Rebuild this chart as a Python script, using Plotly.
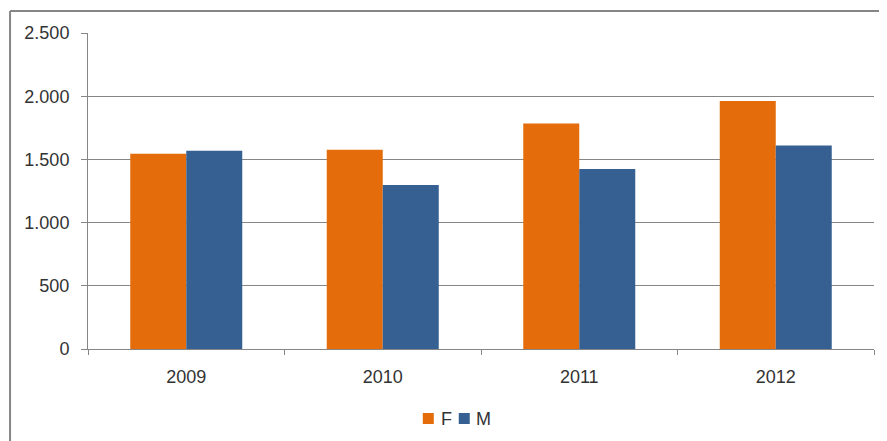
import plotly.graph_objects as go

years = ["2009", "2010", "2011", "2012"]
f_values = [1545, 1577, 1785, 1963]
m_values = [1569, 1297, 1424, 1609]
y_ticks = [0, 500, 1000, 1500, 2000, 2500]
y_tick_labels = ["0", "500", "1.000", "1.500", "2.000", "2.500"]
series_names = ["F", "M"]
series_colors = ["#E46C0A", "#366092"]

OFF = 8  # page body margin offset
W, H = 887 - OFF, 441 - OFF
# plot area in window pixels: x 88..874.5, y 33..349
ML = 88 - OFF
MT = 33 - OFF
MR = W - (874.5 - OFF)
MB = H - (349 - OFF)
pw = W - ML - MR
ph = H - MT - MB

def px_x(x):
    return (x - OFF - ML) / pw

def px_y(y):
    return (H - MB - (y - OFF)) / ph

fig = go.Figure()
for name, vals, col in zip(series_names, [f_values, m_values], series_colors):
    fig.add_trace(go.Bar(name=name, x=years, y=vals, showlegend=False,
                         marker=dict(color=col, line=dict(width=0))))

font = dict(family="Liberation Sans, Arial, sans-serif", size=18, color="#333333")

shapes = [
    dict(type="line", xref="paper", yref="paper", x0=px_x(10), x1=px_x(900), y0=px_y(11), y1=px_y(11),
         line=dict(color="#868686", width=2)),
    dict(type="line", xref="paper", yref="paper", x0=px_x(10), x1=px_x(10), y0=px_y(11), y1=px_y(450),
         line=dict(color="#868686", width=2)),
]
annotations = []
# legend (drawn manually to match the compact Excel-style legend)
legend_sym_x = [423, 459]
legend_txt_x = [439, 474]
for name, col, sx, tx in zip(series_names, series_colors, legend_sym_x, legend_txt_x):
    shapes.append(dict(type="rect", xref="paper", yref="paper",
                       x0=px_x(sx), x1=px_x(sx + 11), y0=px_y(413), y1=px_y(424),
                       fillcolor=col, line=dict(width=0)))
    annotations.append(dict(text=name, xref="paper", yref="paper", x=px_x(tx), y=px_y(418.5),
                            xanchor="left", yanchor="middle", showarrow=False, font=font))

fig.update_layout(
    width=W, height=H,
    margin=dict(l=ML, r=MR, t=MT, b=MB, pad=0, autoexpand=False),
    paper_bgcolor="white", plot_bgcolor="white",
    barmode="group", bargap=0.43, bargroupgap=0,
    font=font,
    showlegend=False,
    xaxis=dict(type="category", showline=True, linecolor="#868686", linewidth=1,
               ticks="outside", ticklen=5, tickcolor="#868686", tickson="boundaries",
               showgrid=False, tickfont=font, ticklabelstandoff=11),
    yaxis=dict(range=[0, 2500], tickvals=y_ticks, ticktext=y_tick_labels,
               showline=True, linecolor="#868686", linewidth=1,
               ticks="outside", ticklen=6, tickcolor="#868686",
               showgrid=True, gridcolor="#868686", gridwidth=1,
               zeroline=False, tickfont=font, ticklabelstandoff=8),
    shapes=shapes,
    annotations=annotations,
)

fig.write_html("out.html")
